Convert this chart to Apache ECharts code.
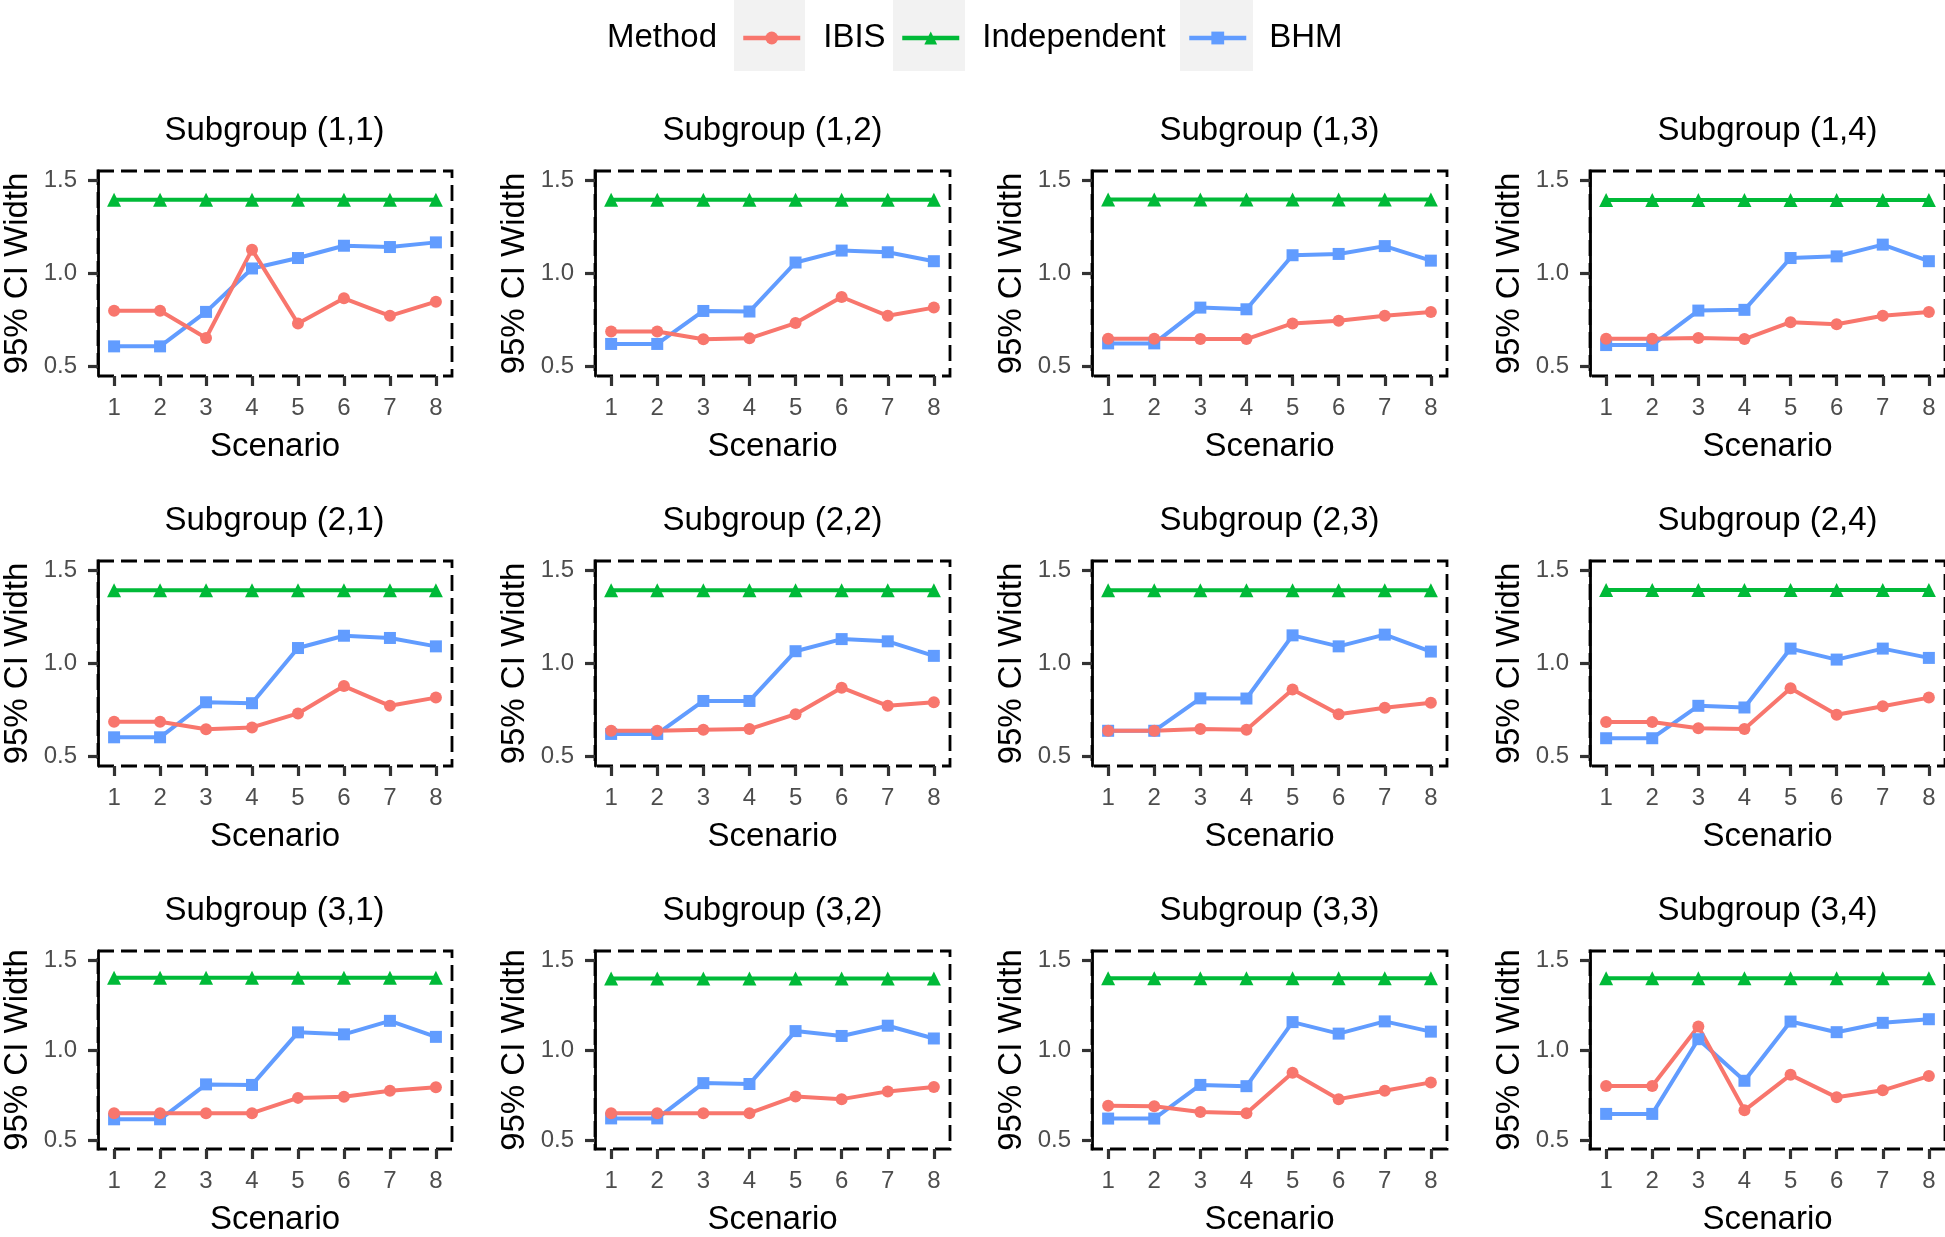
<!DOCTYPE html>
<html>
<head>
<meta charset="utf-8">
<script src="https://cdn.jsdelivr.net/npm/echarts@6/dist/echarts.min.js"></script>
<style>
  html, body { margin: 0; padding: 0; background: #ffffff; }
  #chart { width: 1945px; height: 1237px; }
</style>
</head>
<body>
<div id="chart"></div>
<script>
// ---------------- data ----------------
const scenarios = [1, 2, 3, 4, 5, 6, 7, 8];
const yTicks = [0.5, 1.0, 1.5];
const methods = ['IBIS', 'Independent', 'BHM'];
const panelTitles = [
  'Subgroup (1,1)', 'Subgroup (1,2)', 'Subgroup (1,3)', 'Subgroup (1,4)',
  'Subgroup (2,1)', 'Subgroup (2,2)', 'Subgroup (2,3)', 'Subgroup (2,4)',
  'Subgroup (3,1)', 'Subgroup (3,2)', 'Subgroup (3,3)', 'Subgroup (3,4)'
];
const ibisWidth = [
  [0.800, 0.800, 0.654, 1.128, 0.732, 0.867, 0.773, 0.849],
  [0.689, 0.689, 0.647, 0.652, 0.734, 0.874, 0.773, 0.817],
  [0.650, 0.650, 0.648, 0.648, 0.732, 0.746, 0.773, 0.794],
  [0.650, 0.650, 0.654, 0.648, 0.739, 0.728, 0.773, 0.794],
  [0.687, 0.687, 0.647, 0.657, 0.732, 0.879, 0.773, 0.817],
  [0.639, 0.639, 0.645, 0.648, 0.728, 0.870, 0.773, 0.792],
  [0.639, 0.639, 0.648, 0.645, 0.861, 0.728, 0.762, 0.789],
  [0.686, 0.686, 0.652, 0.648, 0.867, 0.725, 0.771, 0.817],
  [0.649, 0.649, 0.649, 0.649, 0.734, 0.740, 0.774, 0.793],
  [0.649, 0.649, 0.649, 0.649, 0.742, 0.727, 0.770, 0.795],
  [0.690, 0.688, 0.656, 0.649, 0.873, 0.727, 0.774, 0.820],
  [0.800, 0.800, 1.130, 0.665, 0.862, 0.737, 0.776, 0.855]
];
const independentWidth = [
  [1.396, 1.396, 1.396, 1.396, 1.396, 1.396, 1.396, 1.396],
  [1.396, 1.396, 1.396, 1.396, 1.396, 1.396, 1.396, 1.396],
  [1.397, 1.397, 1.397, 1.397, 1.397, 1.397, 1.397, 1.397],
  [1.395, 1.395, 1.395, 1.395, 1.395, 1.395, 1.395, 1.395],
  [1.393, 1.393, 1.393, 1.393, 1.393, 1.393, 1.393, 1.393],
  [1.393, 1.393, 1.393, 1.393, 1.393, 1.393, 1.393, 1.393],
  [1.393, 1.393, 1.393, 1.393, 1.393, 1.393, 1.393, 1.393],
  [1.394, 1.394, 1.394, 1.394, 1.394, 1.394, 1.394, 1.394],
  [1.401, 1.401, 1.401, 1.401, 1.401, 1.401, 1.401, 1.401],
  [1.397, 1.397, 1.397, 1.397, 1.397, 1.397, 1.397, 1.397],
  [1.398, 1.398, 1.398, 1.398, 1.398, 1.398, 1.398, 1.398],
  [1.398, 1.398, 1.398, 1.398, 1.398, 1.398, 1.398, 1.398]
];
const bhmWidth = [
  [0.609, 0.609, 0.794, 1.027, 1.083, 1.149, 1.142, 1.167],
  [0.622, 0.622, 0.799, 0.796, 1.059, 1.123, 1.114, 1.066],
  [0.625, 0.625, 0.817, 0.808, 1.098, 1.105, 1.147, 1.069],
  [0.616, 0.616, 0.801, 0.805, 1.083, 1.092, 1.155, 1.066],
  [0.604, 0.604, 0.792, 0.787, 1.083, 1.149, 1.137, 1.092],
  [0.622, 0.622, 0.799, 0.799, 1.066, 1.131, 1.119, 1.041],
  [0.639, 0.639, 0.813, 0.812, 1.151, 1.092, 1.155, 1.064],
  [0.599, 0.599, 0.773, 0.764, 1.080, 1.021, 1.080, 1.030],
  [0.615, 0.615, 0.809, 0.806, 1.098, 1.087, 1.162, 1.073],
  [0.620, 0.620, 0.816, 0.811, 1.105, 1.078, 1.135, 1.064],
  [0.619, 0.619, 0.806, 0.799, 1.155, 1.091, 1.159, 1.102],
  [0.645, 0.645, 1.060, 0.829, 1.158, 1.099, 1.151, 1.171]
];

// ---------------- styling / layout ----------------
const FONT = "'Liberation Sans', Arial, Helvetica, sans-serif";
const COLORS = { IBIS: '#F8766D', Independent: '#00BA38', BHM: '#619CFF' };
const SYMBOLS = { IBIS: 'circle', Independent: 'triangle', BHM: 'rect' };
const SYMSIZE = { IBIS: 12, Independent: 14, BHM: 12 };
const colLeft = [97, 595, 1092, 1590];
const rowTop = [171, 561, 951];
const PW = 355, PH = 205;

const grids = [], xAxes = [], yAxes = [], series = [], graphics = [];

function pairs(vals) { return scenarios.map((s, i) => [s, vals[i]]); }

for (let p = 0; p < 12; p++) {
  const r = Math.floor(p / 4), c = p % 4;
  grids.push({
    left: colLeft[c], top: rowTop[r], width: PW, height: PH,
    show: true, backgroundColor: 'rgba(0,0,0,0)',
    borderColor: '#000000', borderWidth: 2.8, borderType: [16, 7]
  });
  xAxes.push({
    gridIndex: p, type: 'value', min: 0.65, max: 8.35,
    name: 'Scenario', nameLocation: 'middle', nameGap: 54,
    nameTextStyle: { fontFamily: FONT, fontSize: 33, color: '#000000' },
    axisLine: { show: false },
    axisTick: { show: true, length: 10, customValues: scenarios, lineStyle: { color: '#333333', width: 3.2 } },
    axisLabel: { customValues: scenarios, fontFamily: FONT, fontSize: 24, color: '#4D4D4D', margin: 20 },
    splitLine: { show: false }
  });
  yAxes.push({
    gridIndex: p, type: 'value', min: 0.45, max: 1.55,
    name: '95% CI Width', nameLocation: 'middle', nameGap: 64, nameRotate: 90,
    nameTextStyle: { fontFamily: FONT, fontSize: 33, color: '#000000' },
    axisLine: { show: true, lineStyle: { color: '#000000', width: 2.8 } },
    axisTick: { show: true, length: 10, customValues: yTicks, lineStyle: { color: '#333333', width: 3.2 } },
    axisLabel: { customValues: yTicks, fontFamily: FONT, fontSize: 24, color: '#4D4D4D', margin: 21,
      formatter: v => v.toFixed(1) },
    splitLine: { show: false }
  });
  const data = { IBIS: ibisWidth[p], Independent: independentWidth[p], BHM: bhmWidth[p] };
  // drawing order: BHM below, then Independent, IBIS on top
  ['BHM', 'Independent', 'IBIS'].forEach(m => {
    series.push({
      name: m, type: 'line', xAxisIndex: p, yAxisIndex: p,
      data: pairs(data[m]),
      symbol: SYMBOLS[m], symbolSize: SYMSIZE[m], showSymbol: true,
      lineStyle: { color: COLORS[m], width: 4 },
      itemStyle: { color: COLORS[m] },
      emphasis: { disabled: true }, animation: false, clip: false
    });
  });
  graphics.push({
    type: 'text', x: colLeft[c] + PW / 2, y: rowTop[r] - 40,
    style: { text: panelTitles[p], align: 'center', verticalAlign: 'middle',
      font: '33px ' + FONT, fill: '#000000' }
  });
}

// legend key backgrounds and title
const keyBoxes = [[734, 71], [893, 72], [1180, 73]];
keyBoxes.forEach(([x, w]) => {
  graphics.push({ type: 'rect', z: -10, shape: { x: x, y: 0, width: w, height: 71 }, style: { fill: '#F2F2F2' } });
});
graphics.push({ type: 'text', x: 607, y: 38,
  style: { text: 'Method', align: 'left', verticalAlign: 'middle', font: '33px ' + FONT, fill: '#000000' } });

const legendLefts = [741, 900, 1187];
const legends = methods.map((m, i) => ({
  data: [m], left: legendLefts[i], top: 21.5, padding: 0,
  itemWidth: 57, itemHeight: 16, selectedMode: false,
  lineStyle: { width: 4.5 },
  textStyle: { fontFamily: FONT, fontSize: 33, color: '#000000', lineHeight: 33, padding: [0, 0, 0, 18] }
}));

const chart = echarts.init(document.getElementById('chart'), null, { renderer: 'canvas' });
chart.setOption({
  backgroundColor: '#ffffff',
  animation: false,
  legend: legends,
  grid: grids,
  xAxis: xAxes,
  yAxis: yAxes,
  series: series,
  graphic: graphics
});
</script>
</body>
</html>
